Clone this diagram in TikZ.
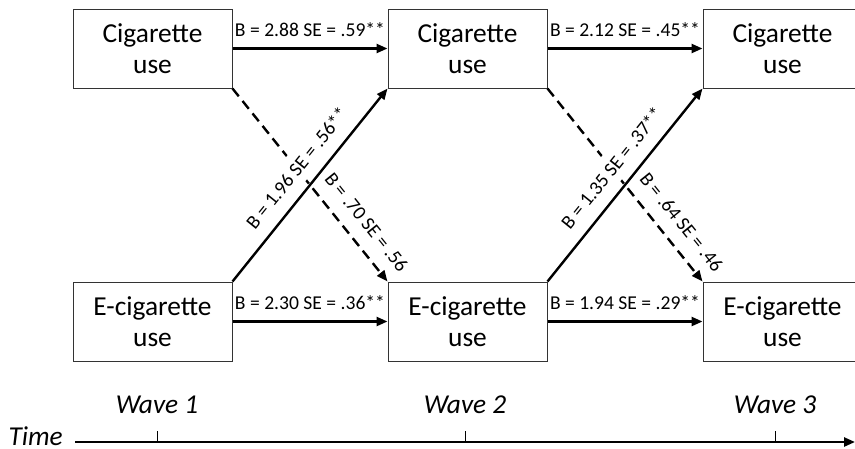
\documentclass[tikz,border=0pt]{standalone}
\usepackage{fontspec}
\setmainfont{Carlito}
\usetikzlibrary{arrows.meta}

\tikzset{
  usebox/.style = {draw=black!80, line width=1pt, minimum width=159pt, minimum height=79pt,
    inner sep=0pt, align=center, font=\fontsize{27.4}{31}\selectfont},
  effect/.style = {line width=2.4pt, -{Triangle[length=11pt,width=9pt]}},
  weak/.style = {effect, dash pattern=on 10pt off 6pt},
  est/.style = {font=\fontsize{19.6}{22}\selectfont, inner sep=3pt},
  cross/.style = {est, sloped, above, inner ysep=8pt, outer ysep=6pt, fill=white},
  wave/.style = {font=\fontsize{27.3}{31}\selectfont\itshape, inner sep=0pt},
}

\begin{document}
\begin{tikzpicture}[x=1pt, y=-1pt]
\useasboundingbox (0,0) rectangle (855,448);
\clip (0,0) rectangle (855,448);

% measures at the three waves
\node[usebox] (cig1) at (152.5,48.5) {Cigarette\\use};
\node[usebox] (cig2) at (467.5,48.5) {Cigarette\\use};
\node[usebox] (cig3) at (782.5,48.5) {Cigarette\\use};
\node[usebox] (ecig1) at (152.5,321.5) {E-cigarette\\use};
\node[usebox] (ecig2) at (467.5,321.5) {E-cigarette\\use};
\node[usebox] (ecig3) at (782.5,321.5) {E-cigarette\\use};

% cross-lagged paths (not significant)
\draw[weak] (cig1.south east) -- (ecig2.north west)
  node[est, pos=0.76, sloped, above=10pt] {B = .70 SE = .56};
\draw[weak] (cig2.south east) -- (ecig3.north west)
  node[est, pos=0.76, sloped, above=10pt] {B = .64 SE = .46};

% cross-lagged paths
\draw[effect] (ecig1.north east) -- (cig2.south west)
  node[cross, pos=0.52] {B = 1.96 SE = .56**};
\draw[effect] (ecig2.north east) -- (cig3.south west)
  node[cross, pos=0.52] {B = 1.35 SE = .37**};

% stability paths
\draw[effect] (cig1) -- (cig2) node[est, midway, above=8pt] {B = 2.88 SE = .59**};
\draw[effect] (cig2) -- (cig3) node[est, midway, above=8pt] {B = 2.12 SE = .45**};
\draw[effect] (ecig1) -- (ecig2) node[est, midway, above=8pt] {B = 2.30 SE = .36**};
\draw[effect] (ecig2) -- (ecig3) node[est, midway, above=8pt] {B = 1.94 SE = .29**};

% time axis
\node[wave, anchor=base east] (time) at (63,445) {Time};
\coordinate (tstart) at (75,442);
\coordinate (tend) at (855,442);
\draw[line width=2.4pt, -{Triangle[length=11pt,width=9pt]}] (tstart) -- (tend);
\foreach \x/\w in {157/1, 465/2, 775/3} {
  \draw[line width=1pt] (\x,442) -- (\x,431);
  \node[wave, anchor=base] (wave\w) at (\x,413) {Wave \w};
}
\end{tikzpicture}
\end{document}
